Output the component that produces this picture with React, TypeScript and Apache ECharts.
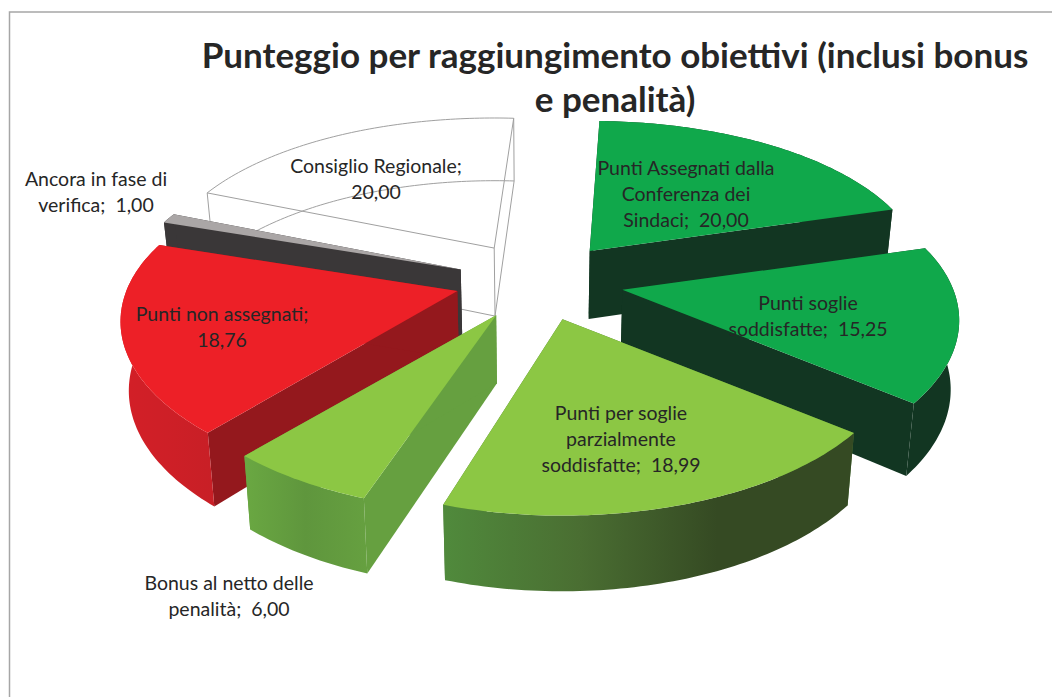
import React, { useEffect, useRef } from "react";
import * as echarts from "echarts";

const categories = [
  "Punti Assegnati dalla Conferenza dei Sindaci",
  "Punti soglie soddisfatte",
  "Punti per soglie parzialmente soddisfatte",
  "Bonus al netto delle penalità",
  "Punti non assegnati",
  "Ancora in fase di verifica",
  "Consiglio Regionale",
];
const values = [20.0, 15.25, 18.99, 6.0, 18.76, 1.0, 20.0];
const valueLabels = ["20,00", "15,25", "18,99", "6,00", "18,76", "1,00", "20,00"];
const labelLines = [
  ["Punti Assegnati dalla", "Conferenza dei", "Sindaci;  "],
  ["Punti soglie", "soddisfatte;  "],
  ["Punti per soglie", "parzialmente", "soddisfatte;  "],
  ["Bonus al netto delle", "penalità;  "],
  ["Punti non assegnati;", ""],
  ["Ancora in fase di", "verifica;  "],
  ["Consiglio Regionale;", ""],
];
const explode = [0.27, 0.276, 0.25, 0.24, 0.25, 0.245, 0.25];
const nudges = [[1, 2], [0, -2], [4, -2], [0, -1], [0, -3], [0, 0], [2, -1]];
const rotations = [0, 0, 0, 2, 1.5, 2, 2];
const drawOrder = [6, 5, 4, 0, 1, 3, 2];

const labelCentres = [
  [686, 193],
  [808, 315],
  [621, 438],
  [229, 595],
  [222, 326],
  [96, 191],
  [376, 178],
];

const topColors = ["#10a84b", "#10a84b", "#8cc744", "#8cc744", "#ed2027", "#aaa6a6", "none"];
const radialColors = ["#123622", "#123622", "#4a7a35", "#66a040", "#94181d", "#3a3738", "none"];
const arcStops = [
  ["#123622", "#123622"],
  ["#123622", "#123622"],
  ["#508a3c", "#4a6e32", "#354a23", "#354a23"],
  ["#6aa842", "#5f963d", "#66a040"],
  ["#d31f27", "#ce1f27", "#c81f26"],
  ["#3a3738", "#3a3738"],
  ["none", "none"],
];

const CX = 535, CY = 283, AX = 331, BY = 160, OFFX = 323, PERSP = 0.185, PERSP_FAR_Y = 0.23, HEIGHT = 68, CONVERGE = 0.02;
const START = 2;
const TOTAL = values.reduce((a, b) => a + b, 0);

function project(i: number, ou: number, ov: number, u: number, v: number, z: number): [number, number] {
  const w = 1 / (1 + PERSP * v);
  const wy = v > 0 ? 1 / (1 + PERSP_FAR_Y * v) : w;
  const x = OFFX * ou + AX * u * w + nudges[i][0];
  const y = -BY * (ov + v * wy) + nudges[i][1];
  return [CX + x * (1 - CONVERGE * z), CY + y + HEIGHT * z * (1 + 0.5 * (w - 1))];
}
const rad = (d: number) => (d * Math.PI) / 180;

function renderSlice(params: any, api: any) {
  const i = params.dataIndex;
  const before = values.slice(0, i).reduce((a, b) => a + b, 0);
  const a0 = START + rotations[i] + (before / TOTAL) * 360;
  const a1 = a0 + (api.value(0) / TOTAL) * 360;
  const mid = (a0 + a1) / 2;
  const ou = explode[i] * Math.sin(rad(mid));
  const ov = explode[i] * Math.cos(rad(mid));
  const arcAt = (z: number) => {
    const pts: [number, number][] = [];
    const n = Math.max(2, Math.ceil(a1 - a0));
    for (let k = 0; k <= n; k++) {
      const t = rad(a0 + ((a1 - a0) * k) / n);
      pts.push(project(i, ou, ov, Math.sin(t), Math.cos(t), z));
    }
    return pts;
  };
  const topArc = arcAt(0);
  const botArc = arcAt(1);
  const apexTop = project(i, ou, ov, 0, 0, 0);
  const apexBot = project(i, ou, ov, 0, 0, 1);
  const first = topArc[0], last = topArc[topArc.length - 1];
  const firstB = botArc[0], lastB = botArc[botArc.length - 1];
  const base = (drawOrder.indexOf(i) + 1) * 10;

  if (topColors[i] === "none") {
    const line = { stroke: "#a0a0a0", lineWidth: 1, fill: "none" };
    const pl = (points: [number, number][], z2: number) => ({
      type: "polyline", shape: { points }, style: line, z2, silent: true,
    });
    return {
      type: "group",
      children: [
        pl(topArc, base), pl(botArc, base),
        pl([first, apexTop, last], base), pl([firstB, apexBot, lastB], base),
        pl([apexTop, apexBot], base), pl([first, firstB], base), pl([last, lastB], base),
      ],
    };
  }
  const poly = (points: [number, number][], fill: any, z2: number) => ({
    type: "polygon", shape: { points }, style: { fill, stroke: "none" }, z2, silent: true,
  });
  const stops = arcStops[i].map((color, k, arr) => ({ offset: k / (arr.length - 1), color }));
  const arcFill = { type: "linear", x: 0, y: 0, x2: 1, y2: 0, colorStops: stops };
  return {
    type: "group",
    children: [
      poly([apexTop, first, firstB, apexBot], radialColors[i], base),
      poly([apexTop, last, lastB, apexBot], radialColors[i], base),
      poly([...topArc, ...botArc.slice().reverse()], arcFill, base + 1),
      poly([apexTop, ...topArc], topColors[i], base + 2),
    ],
  };
}

export default function App() {
  const ref = useRef<HTMLDivElement>(null);
  useEffect(() => {
    document.body.style.margin = "0";
    const chart = echarts.init(ref.current!, null, { renderer: "svg" });
    chart.setOption({
      animation: false,
      backgroundColor: "#ffffff",
      title: {
        text: "Punteggio per raggiungimento obiettivi (inclusi bonus\ne penalità)",
        left: 610,
        top: 27,
        textAlign: "center",
        textStyle: {
          fontFamily: "Lato",
          fontWeight: "bold",
          fontSize: 35,
          lineHeight: 44,
          color: "#262626",
        },
      },
      graphic: [
        {
          type: "polyline",
          shape: { points: [[1052, 12], [9.5, 12], [9.5, 697]] },
          style: { stroke: "#a6a6a6", lineWidth: 1.5, fill: "none" },
          z: 0,
        },
        ...categories.map((_, i) => ({
          type: "text",
          x: labelCentres[i][0],
          y: labelCentres[i][1],
          z: 100,
          style: {
            text: labelLines[i]
              .map((l, k, arr) => (k === arr.length - 1 ? l + valueLabels[i] : l))
              .join("\n"),
            fontFamily: "Lato",
            fontSize: 19.5,
            lineHeight: 26,
            align: "center",
            verticalAlign: "middle",
            fill: "#262626",
          },
        })),
      ],
      series: [
        {
          type: "custom",
          coordinateSystem: "none",
          renderItem: renderSlice,
          data: values.map((v, i) => ({ name: categories[i], value: [v] })),
          silent: true,
          z: 2,
        },
      ],
    });
    return () => chart.dispose();
  }, []);
  return <div ref={ref} style={{ position: "absolute", left: 0, top: 0, width: 1052, height: 697 }} />;
}
